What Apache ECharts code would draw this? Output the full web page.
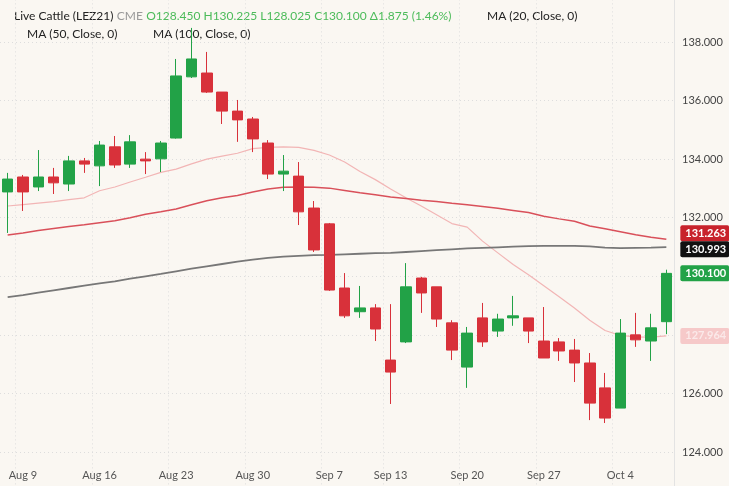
<!DOCTYPE html>
<html><head><meta charset="utf-8">
<script src="https://cdn.jsdelivr.net/npm/echarts@6/dist/echarts.min.js"></script>
<style>html,body{margin:0;padding:0;background:#faf7f2}#c{width:729px;height:486px}</style>
</head><body><div id="c"></div>
<script>
const dates = ['Aug 6','Aug 9','Aug 10','Aug 11','Aug 12','Aug 13','Aug 16','Aug 17','Aug 18','Aug 19','Aug 20','Aug 23','Aug 24','Aug 25','Aug 26','Aug 27','Aug 30','Aug 31','Sep 1','Sep 2','Sep 3','Sep 7','Sep 8','Sep 9','Sep 10','Sep 13','Sep 14','Sep 15','Sep 16','Sep 17','Sep 20','Sep 21','Sep 22','Sep 23','Sep 24','Sep 27','Sep 28','Sep 29','Sep 30','Oct 1','Oct 4','Oct 5','Oct 6','Oct 7'];
const shownLabels = ['Aug 9','Aug 16','Aug 23','Aug 30','Sep 7','Sep 13','Sep 20','Sep 27','Oct 4'];
const openV  = [132.88,133.39,133.05,133.39,133.15,133.94,133.77,134.42,133.83,134.00,134.01,134.72,136.81,136.94,136.29,135.64,135.37,134.55,133.49,133.42,132.33,131.79,129.60,128.79,128.92,127.14,127.76,129.94,129.64,128.41,126.90,128.58,128.13,128.58,128.58,127.79,127.76,127.48,127.04,126.19,125.50,128.00,127.79,128.45];
const closeV = [133.32,132.88,133.39,133.19,133.94,133.83,134.48,133.80,134.59,133.94,134.55,136.84,137.42,136.29,135.64,135.34,134.69,133.49,133.59,132.20,130.90,129.53,128.65,128.92,128.20,126.73,129.64,129.43,128.54,127.48,128.06,127.76,128.54,128.65,128.13,127.21,127.45,127.04,125.67,125.16,128.06,127.83,128.24,130.10];
const lowV   = [131.48,132.23,132.91,132.81,132.91,133.53,133.08,133.70,133.70,133.49,133.56,134.70,136.77,136.26,135.20,134.59,134.24,133.32,132.91,131.75,130.83,129.50,128.58,128.58,127.79,125.64,127.72,128.75,128.27,127.14,126.19,127.59,127.93,128.31,127.72,127.21,127.11,126.39,125.09,124.99,125.50,127.59,127.11,128.025];
const highV  = [133.53,133.46,134.31,133.70,134.11,134.04,134.62,134.79,134.82,134.24,134.62,137.42,138.48,137.66,136.29,136.02,135.44,134.65,134.14,133.90,132.57,131.82,130.11,129.67,129.05,129.05,130.45,129.98,129.64,128.50,128.27,129.09,128.72,129.33,128.58,128.95,127.89,127.86,127.38,126.70,128.54,128.75,128.72,130.225];
const ma20  = [132.40,132.45,132.50,132.55,132.62,132.68,132.92,133.05,133.22,133.38,133.55,133.66,133.84,134.00,134.10,134.20,134.36,134.40,134.42,134.40,134.30,134.14,133.90,133.58,133.30,132.98,132.68,132.40,132.10,131.80,131.68,131.20,130.80,130.40,130.05,129.68,129.30,128.92,128.50,128.15,127.98,127.93,127.92,127.964];
const ma50  = [131.41,131.48,131.56,131.63,131.70,131.76,131.83,131.90,132.00,132.12,132.20,132.30,132.44,132.58,132.68,132.76,132.88,132.98,133.04,133.05,133.04,133.01,132.93,132.85,132.78,132.71,132.66,132.60,132.55,132.49,132.44,132.38,132.32,132.25,132.18,132.05,131.96,131.88,131.72,131.62,131.52,131.42,131.33,131.263];
const ma100 = [129.29,129.36,129.44,129.52,129.60,129.68,129.76,129.83,129.92,130.00,130.08,130.17,130.26,130.34,130.42,130.50,130.57,130.63,130.67,130.70,130.72,130.73,130.75,130.77,130.79,130.80,130.83,130.86,130.89,130.92,130.95,130.97,130.99,131.01,131.03,131.04,131.04,131.04,131.02,130.98,130.96,130.97,130.98,130.993];

const UP='#22a247', DOWN='#d8313a';
const ohlc = dates.map((d,i)=>[openV[i],closeV[i],lowV[i],highV[i]]);
const shownIdx = dates.map((d,i)=>shownLabels.includes(d));
function tag(bg,color){return {show:true,formatter:p=>(+p.value).toFixed(3),backgroundColor:bg,color:color,fontFamily:'Lato',fontSize:11,fontWeight:'bold',padding:[3,3,2,5],distance:14,borderRadius:2};}
const chart = echarts.init(document.getElementById('c'));
chart.setOption({
  backgroundColor:'#faf7f2',
  animation:false,
  textStyle:{fontFamily:'Lato'},
  grid:{left:0,right:55,top:-16.6,bottom:-24.6,containLabel:false,outerBoundsMode:'none'},
  xAxis:{type:'category',data:dates,boundaryGap:true,offset:-48.6,
    axisLine:{show:false},axisTick:{show:false},
    axisLabel:{interval:(i)=>shownIdx[i],color:'#555',fontSize:11,margin:8},
    splitLine:{show:true,interval:(i)=>shownIdx[i],lineStyle:{color:'#ddd',type:[1,3]}}},
  yAxis:{type:'value',position:'right',min:122,max:140,interval:2,
    axisLine:{show:true,lineStyle:{color:'#e3e3e3'}},axisTick:{show:false},
    axisLabel:{color:'#444',fontSize:11,margin:8,formatter:v=>v.toFixed(3)},
    splitLine:{lineStyle:{color:'#ddd',type:[1,3]}}},
  graphic:[
    {type:'text',left:14,top:10,style:{text:'{a|Live Cattle (LEZ21)} {b|CME} {g|O128.450 H130.225 L128.025 C130.100 Δ1.875 (1.46%)}',rich:{a:{fill:'#222',fontSize:12,fontFamily:'Lato'},b:{fill:'#999',fontSize:12,fontFamily:'Lato'},g:{fill:'#4cbb5a',fontSize:12,fontFamily:'Lato'}}}},
    {type:'text',left:487,top:10,style:{text:'MA (20, Close, 0)',fill:'#222',fontSize:12,fontFamily:'Lato'}},
    {type:'text',left:27,top:28,style:{text:'MA (50, Close, 0)',fill:'#222',fontSize:12,fontFamily:'Lato'}},
    {type:'text',left:153,top:28,style:{text:'MA (100, Close, 0)',fill:'#222',fontSize:12,fontFamily:'Lato'}}
  ],
  series:[
    {name:'MA20',type:'line',data:ma20,symbol:'none',lineStyle:{color:'#f2b5b5',width:1.2},z:2,
      endLabel:tag('#f6c9c9','#fbe9e9')},
    {name:'MA50',type:'line',data:ma50,symbol:'none',lineStyle:{color:'#d9505a',width:1.5},z:2,
      endLabel:Object.assign(tag('#c8232c','#fff'),{offset:[0,-6]})},
    {name:'MA100',type:'line',data:ma100,symbol:'none',lineStyle:{color:'#777',width:1.8},z:3,
      endLabel:Object.assign(tag('#111','#fff'),{offset:[0,2]})},
    {name:'K',type:'candlestick',data:ohlc,barWidth:11,z:4,
      itemStyle:{color:UP,color0:DOWN,borderColor:UP,borderColor0:DOWN,borderWidth:1}},
    {name:'C',type:'line',data:closeV,symbol:'none',lineStyle:{opacity:0},z:5,
      endLabel:tag('#22a247','#fff')}
  ]
});
</script></body></html>
